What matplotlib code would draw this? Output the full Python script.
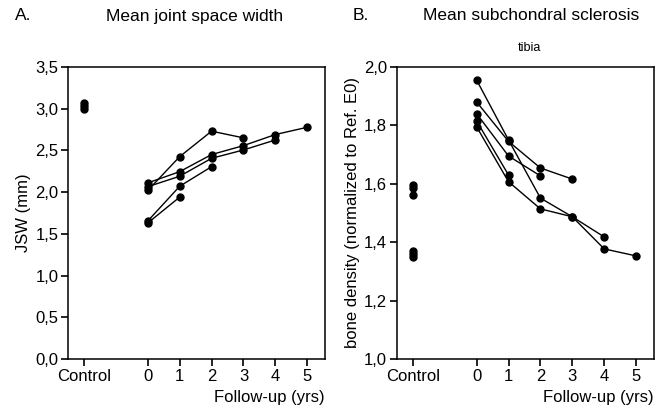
import matplotlib
matplotlib.use("Agg")
import matplotlib.pyplot as plt
from matplotlib.ticker import FuncFormatter

plt.rcParams["font.family"] = ["Liberation Sans", "DejaVu Sans"]

# x: follow-up years, control plotted at -2
ctrl_x = -2
years = [0, 1, 2, 3, 4, 5]
xtick_labels = ["Control", "0", "1", "2", "3", "4", "5"]

# A. Mean joint space width (mm)
jsw_control = [3.07, 3.03, 2.99]
jsw_series = [
    [2.02, 2.425, 2.73, 2.65],
    [2.11, 2.245, 2.45, 2.557, 2.69, 2.777],
    [2.065, 2.19, 2.405, 2.505, 2.625],
    [1.654, 2.07, 2.305],
    [1.63, 1.94],
]

# B. Mean subchondral sclerosis, tibia (normalized bone density)
bd_control = [1.595, 1.585, 1.56, 1.37, 1.36, 1.35]
bd_series = [
    [1.955, 1.75, 1.551, 1.487, 1.377, 1.353],
    [1.88, 1.745, 1.654, 1.616],
    [1.84, 1.695, 1.627],
    [1.815, 1.63],
    [1.795, 1.607, 1.514, 1.487, 1.418],
]

comma = FuncFormatter(lambda v, p: f"{v:.1f}".replace(".", ","))

fig = plt.figure(figsize=(6.67, 4.08), dpi=100)
axA = fig.add_axes([0.102, 0.120, 0.385, 0.716])
axB = fig.add_axes([0.595, 0.120, 0.385, 0.716])


def draw(ax, control, series, ylim, step, ylabel):
    ax.plot([ctrl_x] * len(control), control, "o", color="k", ms=5)
    for s in series:
        ax.plot(years[:len(s)], s, "-o", color="k", lw=1.0, ms=5)
    ax.set_xlim(-2.5, 5.55)
    ax.set_ylim(*ylim)
    ax.set_xticks([ctrl_x] + years)
    ax.set_xticklabels(xtick_labels)
    n = round((ylim[1] - ylim[0]) / step)
    ax.set_yticks([ylim[0] + i * step for i in range(n + 1)])
    ax.yaxis.set_major_formatter(comma)
    ax.tick_params(direction="out", length=5, width=1.2, labelsize=12, pad=2)
    for sp in ax.spines.values():
        sp.set_linewidth(1.1)
    ax.set_ylabel(ylabel, fontsize=12, labelpad=3)
    ax.text(1.0, -0.105, "Follow-up (yrs)", transform=ax.transAxes,
            ha="right", va="top", fontsize=12)


draw(axA, jsw_control, jsw_series, (0.0, 3.5), 0.5, "JSW (mm)")
draw(axB, bd_control, bd_series, (1.0, 2.0), 0.2,
     "bone density (normalized to Ref. E0)")

fig.text(15 / 667, 1 - 16 / 408, "A.", fontsize=12.5, va="center")
fig.text(195 / 667, 1 - 16 / 408, "Mean joint space width", fontsize=12.5,
         ha="center", va="center")
fig.text(353 / 667, 1 - 16 / 408, "B.", fontsize=12.5, va="center")
fig.text(531 / 667, 1 - 16 / 408, "Mean subchondral sclerosis", fontsize=12.5,
         ha="center", va="center")
fig.text(529 / 667, 1 - 48 / 408, "tibia", fontsize=9, ha="center",
         va="center")

fig.savefig("out.png", dpi=100)
